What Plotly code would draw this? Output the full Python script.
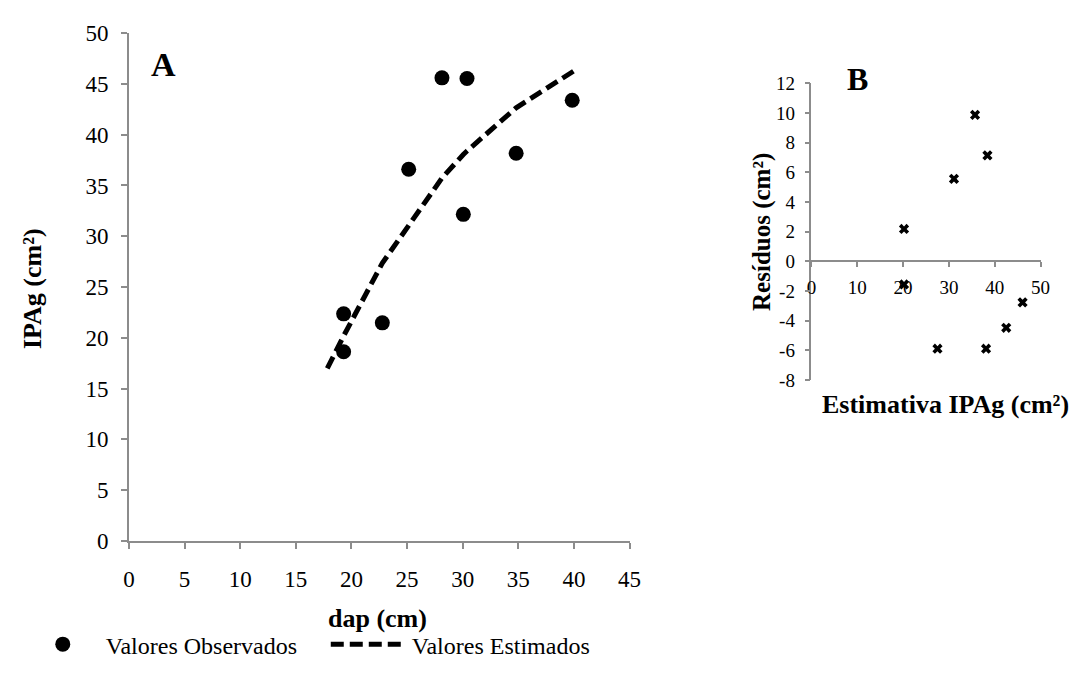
import plotly.graph_objects as go

# Panel A data
dap_obs = [19.3, 19.3, 22.78, 25.15, 28.14, 30.06, 30.39, 34.81, 39.85]
ipag_obs = [22.36, 18.62, 21.47, 36.6, 45.6, 32.16, 45.54, 38.17, 43.39]
dap_est = [17.83, 19.3, 22.78, 25.15, 28.14, 30.06, 30.39, 34.81, 39.85, 40.38]
ipag_est = [16.98, 20.18, 27.36, 31.04, 35.73, 38.05, 38.4, 42.65, 46.16, 46.55]

# Panel B data
est_b = [20.2, 20.2, 27.5, 31.1, 35.7, 38.1, 38.4, 42.5, 46.07]
res_b = [2.18, -1.56, -5.89, 5.56, 9.87, -5.89, 7.14, -4.48, -2.77]
b_yticks = [-8, -6, -4, -2, 0, 2, 4, 6, 8, 10, 12]
b_yticklabels = ["-8", "-6", "-4", "-2", "0", "2", "4", "6", "8", "10", "12"]

FONT = "Liberation Serif"
AXC = "#8c8c8c"
W, H = 1088, 682


def fx(px):
    return px / W


def fy(py):
    return (H - py) / H


fig = go.Figure()
fig.add_trace(go.Scatter(x=dap_obs, y=ipag_obs, mode="markers", name="Valores Observados",
                         marker=dict(color="black", size=15, symbol="circle"),
                         xaxis="x", yaxis="y"))
fig.add_trace(go.Scatter(x=dap_est, y=ipag_est, mode="lines", name="Valores Estimados",
                         line=dict(color="black", width=5, dash="13px,6px"),
                         xaxis="x", yaxis="y"))
fig.add_trace(go.Scatter(x=est_b, y=res_b, mode="markers", showlegend=False,
                         marker=dict(color="black", size=9, symbol="x"),
                         xaxis="x2", yaxis="y2"))

axA = dict(showline=True, linecolor=AXC, linewidth=1.5, ticks="outside", tickcolor=AXC,
           ticklen=6, tickwidth=1.5, showgrid=False, zeroline=False,
           tickfont=dict(family=FONT, size=23, color="black"))
axB = dict(showline=True, linecolor=AXC, linewidth=1.5, ticks="outside", tickcolor=AXC,
           ticklen=5, tickwidth=1.5, showgrid=False, zeroline=False,
           tickfont=dict(family=FONT, size=19, color="black"))

b_top, b_bot = 74, 382
y0_px = b_top + (b_bot - b_top) * 12 / 20

fig.update_layout(
    width=W, height=H,
    margin=dict(l=0, r=0, t=0, b=0),
    paper_bgcolor="white", plot_bgcolor="white",
    font=dict(family=FONT, color="black"),
    xaxis=dict(axA, domain=[fx(125), fx(634)], range=[0, 45], dtick=5, anchor="y",
               ticklabelstandoff=11),
    yaxis=dict(axA, domain=[fy(549), fy(22)], range=[0, 50], dtick=5, anchor="x",
               ticklabelstandoff=8),
    xaxis2=dict(axB, domain=[fx(819), fx(1052)], range=[0, 50], dtick=10,
                anchor="free", position=fy(y0_px), ticklabelstandoff=4),
    yaxis2=dict(axB, domain=[fy(b_bot), fy(b_top)], range=[-8, 12],
                tickvals=b_yticks, ticktext=b_yticklabels, anchor="x2",
                ticklabelstandoff=6),
    legend=dict(orientation="h", x=fx(14), y=fy(682 - 2), xanchor="left", yanchor="bottom",
                font=dict(family=FONT, size=24, color="black"), itemwidth=76,
                entrywidth=215, entrywidthmode="pixels",
                traceorder="normal", bgcolor="rgba(0,0,0,0)"),
    showlegend=True,
)

ann = [
    dict(text="<b>A</b>", x=fx(160), y=fy(54), size=34),
    dict(text="<b>B</b>", x=fx(866), y=fy(70), size=32),
    dict(text="<b>dap (cm)</b>", x=fx(378), y=fy(630), size=26),
    dict(text="<b>Estimativa IPAg (cm²)</b>", x=fx(955), y=fy(407), size=26),
]
for a in ann:
    fig.add_annotation(text=a["text"], x=a["x"], y=a["y"], xref="paper", yref="paper",
                       showarrow=False, xanchor="center", yanchor="middle",
                       font=dict(family=FONT, size=a["size"], color="black"))
fig.add_annotation(text="<b>IPAg (cm²)</b>", x=fx(27), y=fy(287), xref="paper", yref="paper",
                   showarrow=False, textangle=-90, xanchor="center", yanchor="middle",
                   font=dict(family=FONT, size=26, color="black"))
fig.add_annotation(text="<b>Resíduos (cm²)</b>", x=fx(768), y=fy(228), xref="paper", yref="paper",
                   showarrow=False, textangle=-90, xanchor="center", yanchor="middle",
                   font=dict(family=FONT, size=25, color="black"))

fig.write_html("out.html")
